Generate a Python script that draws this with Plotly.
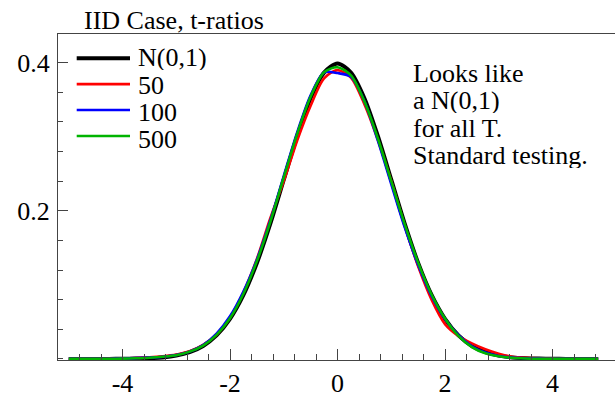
import plotly.graph_objects as go

# ---- data ----
x_grid = [-5.0, -4.75, -4.5, -4.25, -4.0, -3.75, -3.5, -3.25, -3.0, -2.75,
          -2.5, -2.25, -2.0, -1.75, -1.5, -1.25, -1.0, -0.75, -0.5, -0.25,
          0.0, 0.25, 0.5, 0.75, 1.0, 1.25, 1.5, 1.75, 2.0, 2.25,
          2.5, 2.75, 3.0, 3.25, 3.5, 3.75, 4.0, 4.25, 4.5, 4.85]

dens_normal = [0.0, 0.0, 0.0, 0.0, 0.0001, 0.0004, 0.0009, 0.0020, 0.0044, 0.0091,
               0.0175, 0.0317, 0.0540, 0.0863, 0.1295, 0.1826, 0.2420, 0.3011, 0.3521, 0.3867,
               0.3989, 0.3867, 0.3521, 0.3011, 0.2420, 0.1826, 0.1295, 0.0863, 0.0540, 0.0317,
               0.0175, 0.0091, 0.0044, 0.0020, 0.0009, 0.0004, 0.0001, 0.0, 0.0, 0.0]

dens_50 = [0.0, 0.0, 0.0, 0.0003, 0.0007, 0.0012, 0.0020, 0.0035, 0.0060, 0.0105,
           0.0190, 0.0330, 0.0560, 0.0900, 0.1350, 0.1900, 0.2400, 0.2950, 0.3420, 0.3790,
           0.3900, 0.3800, 0.3440, 0.2960, 0.2400, 0.1800, 0.1250, 0.0800, 0.0470, 0.0310,
           0.0210, 0.0130, 0.0070, 0.0030, 0.0015, 0.0008, 0.0004, 0.0002, 0.0001, 0.0]

dens_100 = [0.0, 0.0, 0.0, 0.0002, 0.0005, 0.0010, 0.0018, 0.0030, 0.0052, 0.0098,
            0.0185, 0.0340, 0.0575, 0.0910, 0.1340, 0.1870, 0.2470, 0.3060, 0.3560, 0.3870,
            0.3860, 0.3810, 0.3480, 0.2950, 0.2360, 0.1780, 0.1270, 0.0850, 0.0540, 0.0320,
            0.0170, 0.0085, 0.0040, 0.0018, 0.0008, 0.0003, 0.0001, 0.0, 0.0, 0.0]

dens_500 = [0.0, 0.0, 0.0, 0.0001, 0.0003, 0.0008, 0.0016, 0.0030, 0.0050, 0.0098,
            0.0180, 0.0325, 0.0550, 0.0880, 0.1320, 0.1850, 0.2450, 0.3040, 0.3540, 0.3870,
            0.3940, 0.3830, 0.3480, 0.2980, 0.2400, 0.1820, 0.1300, 0.0870, 0.0545, 0.0310,
            0.0160, 0.0075, 0.0035, 0.0015, 0.0006, 0.0002, 0.0001, 0.0, 0.0, 0.0]

series_names = ["N(0,1)", "50", "100", "500"]
series_values = [dens_normal, dens_50, dens_100, dens_500]

x_tick_vals = [-4, -2, 0, 2, 4]
x_tick_text = ["-4", "-2", "0", "2", "4"]
y_tick_vals = [0.2, 0.4]
y_tick_text = ["0.2", "0.4"]

title_text = "IID Case, t-ratios"
note_lines = ["Looks like", "a N(0,1)", "for all T.", "Standard testing."]

# ---- styles ----
colors = ["#000000", "#ff0000", "#0000ff", "#00b400"]
widths = [4, 2.6, 2.6, 2.6]
FONT = "Liberation Serif"
FS = 26
AXC = "#444444"
BOXH = 26

W, H = 615, 398
ML, MR, MT, MB = 58, 0, 34, 36
PW, PH = W - ML - MR, H - MT - MB


def px_to_paper_x(px):
    return (px - ML) / PW


def px_to_paper_y(py):
    return (H - MB - py) / PH


fig = go.Figure()
for name, vals, c, w in zip(series_names, series_values, colors, widths):
    fig.add_trace(go.Scatter(x=x_grid, y=vals, mode="lines", name=name,
                             line=dict(color=c, width=w, shape="spline", smoothing=0.8),
                             showlegend=False))

# custom legend (compact row spacing as in the reference)
leg_line0, leg_line_step = 58.3, 26.1
leg_text0, leg_text_step = 57.6, 27.3
for i, (name, c, w) in enumerate(zip(series_names, colors, widths)):
    yy = px_to_paper_y(leg_line0 + i * leg_line_step)
    fig.add_shape(type="line", xref="paper", yref="paper",
                  x0=px_to_paper_x(76.7), x1=px_to_paper_x(130), y0=yy, y1=yy,
                  line=dict(color=c, width=w))
    fig.add_annotation(text=name, xref="paper", yref="paper",
                       x=px_to_paper_x(137), y=px_to_paper_y(leg_text0 + i * leg_text_step),
                       xanchor="left", yanchor="middle", showarrow=False,
                       height=BOXH, valign="middle", borderpad=0,
                       font=dict(family=FONT, size=FS, color="#000000"))

# title
fig.add_annotation(text=title_text, xref="paper", yref="paper",
                   x=px_to_paper_x(82), y=px_to_paper_y(20.3),
                   xanchor="left", yanchor="middle", showarrow=False,
                   font=dict(family=FONT, size=FS, color="#000000"))

# note text
note_row0, note_step = 73.5, 27.3
for i, line in enumerate(note_lines):
    fig.add_annotation(text=line, xref="paper", yref="paper",
                       x=px_to_paper_x(411.5), y=px_to_paper_y(note_row0 + i * note_step),
                       xanchor="left", yanchor="middle", showarrow=False,
                       height=BOXH, valign="middle", borderpad=0,
                       font=dict(family=FONT, size=FS, color="#000000"))

fig.update_layout(
    width=W, height=H,
    margin=dict(l=ML, r=MR, t=MT, b=MB, pad=0),
    paper_bgcolor="white", plot_bgcolor="white",
    font=dict(family=FONT, size=FS, color="#000000"),
    showlegend=False,
)
fig.update_xaxes(
    range=[-5.2, -5.2 + PW / 53.75],
    tickvals=x_tick_vals, ticktext=x_tick_text,
    ticks="inside", ticklen=11, tickwidth=1, tickcolor=AXC,
    minor=dict(dtick=0.4, tick0=0, ticks="inside", ticklen=6, tickwidth=1, tickcolor=AXC, showgrid=False),
    showline=True, linecolor=AXC, linewidth=1, mirror=True,
    showgrid=False, zeroline=False,
    tickfont=dict(family=FONT, size=FS, color="#000000"),
)
fig.update_yaxes(
    range=[-0.0015, 0.4388],
    tickvals=y_tick_vals, ticktext=y_tick_text,
    ticks="inside", ticklen=10, tickwidth=1, tickcolor=AXC,
    minor=dict(dtick=0.04, tick0=0, ticks="inside", ticklen=5, tickwidth=1, tickcolor=AXC, showgrid=False),
    showline=True, linecolor=AXC, linewidth=1,
    showgrid=False, zeroline=False,
    ticklabelstandoff=2,
    tickfont=dict(family=FONT, size=FS, color="#000000"),
)

fig.write_html("out.html")
